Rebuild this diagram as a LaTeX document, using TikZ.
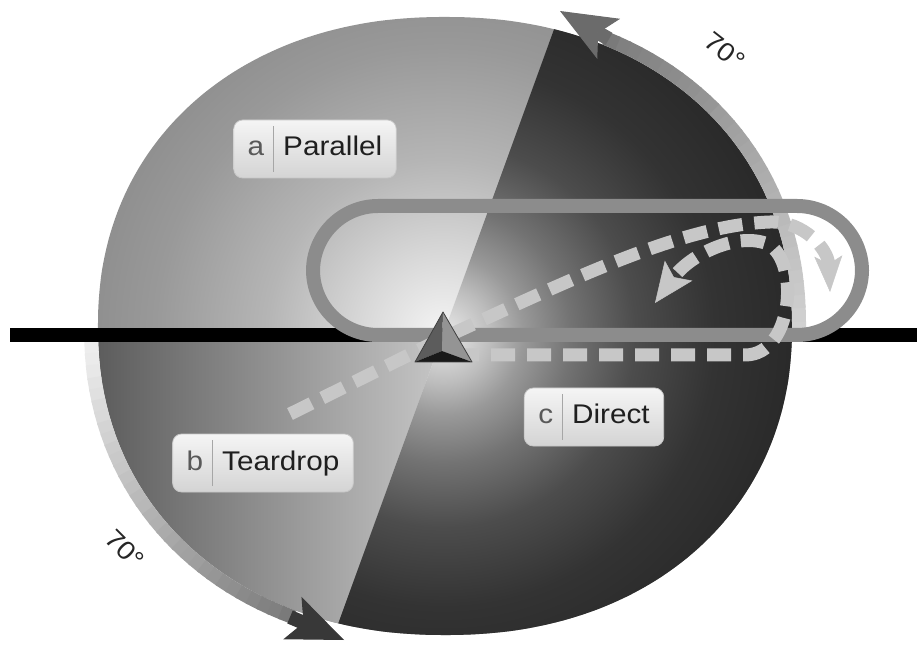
\documentclass[tikz,border=0pt]{standalone}
\usepackage{fontspec}
\newfontfamily\labelfont[FakeStretch=1.1]{Liberation Sans}
\usetikzlibrary{arrows.meta}

%% shadings of the sphere, centred on the fix
\pgfdeclareradialshading{paraglow}{\pgfpoint{0bp}{0bp}}{color(0bp)=(black!4); color(5bp)=(black!15); color(11bp)=(black!29); color(18bp)=(black!40); color(25bp)=(black!47); color(50bp)=(black!47)}
\pgfdeclareradialshading{directglow}{\pgfpoint{0bp}{0bp}}{color(0bp)=(black!8); color(3bp)=(black!26); color(5bp)=(black!40); color(8bp)=(black!55); color(12bp)=(black!70); color(17bp)=(black!80); color(25bp)=(black!86); color(50bp)=(black!86)}

\tikzset{
  declare function={sx(\q)=sign(cos(\q))*pow(max(abs(cos(\q)),0.001),0.93);
                    sy(\q)=sign(sin(\q))*pow(max(abs(sin(\q)),0.001),0.93);},
  entrybox/.style={rounded corners=9pt, top color=black!4, bottom color=black!17,
    draw=black!22, line width=0.8pt, inner xsep=14pt, minimum height=58pt,
    font=\labelfont\fontsize{27}{30}\selectfont, text=black!88},
  entrypath/.style={draw=black!22, line width=13pt, dash pattern=on 24pt off 12pt},
  bandline/.style={line width=14pt},
  angletext/.style={font=\labelfont\fontsize{26}{28}\selectfont, text=black!85},
}
\newcommand\entrytag[2]{\textcolor{black!65}{#1}\hspace{9pt}%
  \textcolor{black!35}{\rule[-16pt]{1pt}{46pt}}\hspace{9pt}#2}

\begin{document}
\begin{tikzpicture}[x=1pt,y=1pt]
        \useasboundingbox (0,0) rectangle (917,648);
        \clip (0,0) rectangle (917,648);
        \coordinate (fix) at (443,313);
        %% Sphere
        \begin{scope}
            \clip plot[domain=0.5:360.5,samples=121,smooth]
                ({445+347*sx(\x)},{322+309*sy(\x)}) -- cycle;
            \shade[shading=paraglow] (fix) circle[radius=400pt];
            %% Teardrop sector
            \begin{scope}
                \clip (fix) -- (-100,313) -- (-100,-345) -- (204,-345) -- cycle;
                \shade[left color=black!64, right color=black!22] (95,-10) rectangle (445,313);
            \end{scope}
            %% Direct sector
            \begin{scope}
                \clip (fix) -- (682,971) -- (1000,971) -- (1000,-345) -- (204,-345) -- cycle;
                \shade[shading=directglow] (fix) circle[radius=400pt];
            \end{scope}
        \end{scope}
        %% Right 70 degree band
        \foreach \t in {0,...,31} {
            \pgfmathsetmacro\thfrom{-1.5+2.0625*\t}
            \pgfmathsetmacro\thto{\thfrom+2.4}
            \pgfmathtruncatemacro\bandshade{18+34*\t/31}
            \draw[bandline, draw=black!\bandshade] plot[domain=\thfrom:\thto,samples=3]
                ({445+354*sx(\x)},{322+316*sy(\x)});
        }
        \coordinate (topbase) at (609,609);
        \coordinate (toptip) at (560,637);
        \draw[bandline, draw=black!58,
            -{Stealth[length=56pt,width=46pt,inset=12pt,line width=1pt]}] (topbase) -- (toptip);
        %% Left 70 degree band
        \foreach \t in {0,...,31} {
            \pgfmathsetmacro\thfrom{182+2*\t}
            \pgfmathsetmacro\thto{\thfrom+2.4}
            \pgfmathtruncatemacro\bandshade{7+45*\t/31}
            \draw[bandline, draw=black!\bandshade] plot[domain=\thfrom:\thto,samples=3]
                ({445+354*sx(\x)},{322+316*sy(\x)});
        }
        \coordinate (botbase) at (290,31);
        \coordinate (bottip) at (344,8);
        \draw[bandline, draw=black!78,
            -{Stealth[length=56pt,width=46pt,inset=12pt,line width=1pt]}] (botbase) -- (bottip);
        %% Inbound course
        \coordinate (west) at (10,313);
        \coordinate (east) at (917,313);
        \draw[line width=14pt] (west) -- (east);
        %% Holding pattern
        \draw[draw=black!45, line width=14pt, rounded corners=65pt] (313,313) rectangle (862,442);
        %% Teardrop entry
        \coordinate (tdstart) at (290,234);
        \coordinate (tdturn) at (770,426);
        \coordinate (tdend) at (830,356);
        \draw[entrypath, -{Stealth[length=36pt,width=28pt,inset=8pt,line width=0.5pt]}]
            (tdstart) -- (443,310) .. controls (560,363) and (680,423) .. (tdturn)
            .. controls (805,427) and (828,398) .. (tdend);
        %% Direct entry
        \coordinate (dcstart) at (455,293);
        \coordinate (dcend) at (655,345);
        \draw[entrypath, -{Stealth[length=40pt,width=34pt,inset=8pt,line width=0.5pt]}]
            (dcstart) -- (745,293) .. controls (795,293) and (800,393) .. (765,405)
            .. controls (735,415) and (690,393) .. (dcend);
        %% Fix
        \coordinate (apex) at (443,336);
        \coordinate (baseL) at (415,286);
        \coordinate (baseR) at (472,286);
        \coordinate (inner) at (442,297);
        \fill[black!64] (apex) -- (baseL) -- (inner) -- cycle;
        \fill[black!42] (apex) -- (inner) -- (baseR) -- cycle;
        \fill[black!90] (baseL) -- (inner) -- (baseR) -- cycle;
        \draw[black!75, line width=0.8pt, line join=round] (apex) -- (baseL) -- (baseR) -- cycle;
        %% Labels
        \node[entrybox] (parallel) at (315,499) {\entrytag{a}{Parallel}};
        \node[entrybox] (teardrop) at (263,185) {\entrytag{b}{Teardrop}};
        \node[entrybox] (direct) at (594,231) {\entrytag{c}{Direct}};
        \node[angletext, rotate=-38] (angtop) at (725,597) {70°};
        \node[angletext, rotate=-45] (angbot) at (125,99) {70°};
    \end{tikzpicture}
\end{document}
